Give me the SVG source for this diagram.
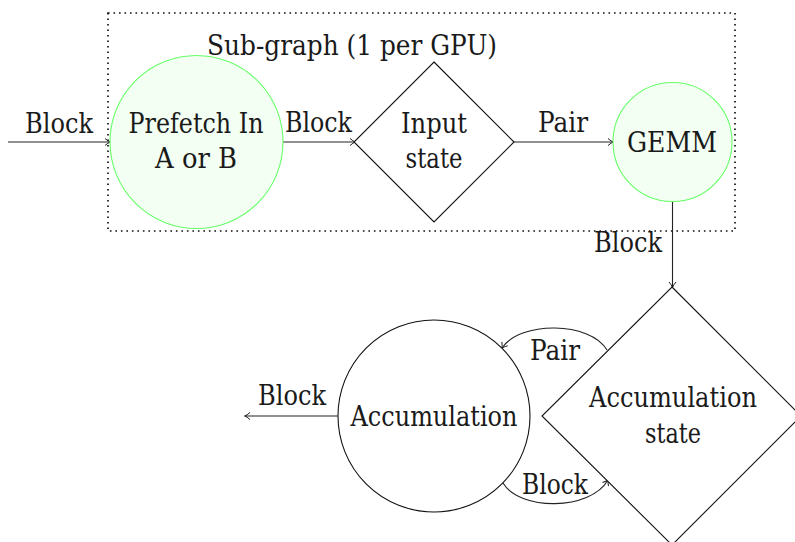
<svg xmlns="http://www.w3.org/2000/svg" width="795" height="542" viewBox="0 0 795 542">
<style>
text{font-size:27px;fill:#1a1a1a;text-anchor:middle}
.edge{fill:none;stroke:#222;stroke-width:1.1}
.green{fill:#f2fff2;stroke:#66ff66;stroke-width:1.1}
.plain{fill:#fff;stroke:#111;stroke-width:1.1}
.box{fill:none;stroke:#111;stroke-width:1.7;stroke-dasharray:1.6 3.9}
</style>
<defs>
<marker id="arr" markerWidth="10" markerHeight="10" refX="7" refY="5" orient="auto" markerUnits="userSpaceOnUse">
<path d="M2,1.5 Q5,4.2 7.5,5 Q5,5.8 2,8.5" fill="none" stroke="#222" stroke-width="1"/>
</marker>
</defs>
<g font-family="DejaVu Serif, Liberation Serif, serif" lengthAdjust="spacingAndGlyphs">
<g id="subgraph">
<rect class="box" x="108" y="13" width="627" height="218"/>
<text x="352" y="55" textLength="290" lengthAdjust="spacingAndGlyphs">Sub-graph (1 per GPU)</text>
</g>
<g id="connectors">
<path class="edge" d="M8,142 H110" marker-end="url(#arr)"/>
<text x="59" y="133" textLength="68" lengthAdjust="spacingAndGlyphs">Block</text>
<path class="edge" d="M283,142 H355" marker-end="url(#arr)"/>
<text x="318.5" y="132" textLength="67" lengthAdjust="spacingAndGlyphs">Block</text>
<path class="edge" d="M514,142 H613" marker-end="url(#arr)"/>
<text x="563" y="132" textLength="50" lengthAdjust="spacingAndGlyphs">Pair</text>
<path class="edge" d="M672.5,201 V287" marker-end="url(#arr)"/>
<text x="628" y="252" textLength="68" lengthAdjust="spacingAndGlyphs">Block</text>
<path class="edge" d="M607,350 C590,321 520,321 502,348" marker-end="url(#arr)"/>
<text x="555" y="360" textLength="50" lengthAdjust="spacingAndGlyphs">Pair</text>
<path class="edge" d="M503,483 C520,511 590,511 608,480" marker-end="url(#arr)"/>
<text x="555" y="494" textLength="66" lengthAdjust="spacingAndGlyphs">Block</text>
<path class="edge" d="M338,416 H245" marker-end="url(#arr)"/>
<text x="292" y="405" textLength="68" lengthAdjust="spacingAndGlyphs">Block</text>
</g>
<g id="prefetch">
<circle class="green" cx="196.5" cy="142" r="86.5"/>
<text x="196" y="133" textLength="135" lengthAdjust="spacingAndGlyphs">Prefetch In</text>
<text x="196" y="168" textLength="82" lengthAdjust="spacingAndGlyphs">A or B</text>
</g>
<g id="input-state">
<polygon class="plain" points="434,62 514,142 434,222 354,142"/>
<text x="434" y="133" textLength="66" lengthAdjust="spacingAndGlyphs">Input</text>
<text x="434" y="168" textLength="57" lengthAdjust="spacingAndGlyphs">state</text>
</g>
<g id="gemm">
<circle class="green" cx="672.5" cy="142" r="59.5"/>
<text x="672" y="152" textLength="90" lengthAdjust="spacingAndGlyphs">GEMM</text>
</g>
<g id="accumulation-state">
<polygon class="plain" points="672,287 801,416 672,545 542,416"/>
<text x="673" y="407" textLength="168" lengthAdjust="spacingAndGlyphs">Accumulation</text>
<text x="673" y="443" textLength="56" lengthAdjust="spacingAndGlyphs">state</text>
</g>
<g id="accumulation">
<circle class="plain" cx="434" cy="416" r="96"/>
<text x="434" y="426" textLength="167" lengthAdjust="spacingAndGlyphs">Accumulation</text>
</g>
</g>
</svg>
